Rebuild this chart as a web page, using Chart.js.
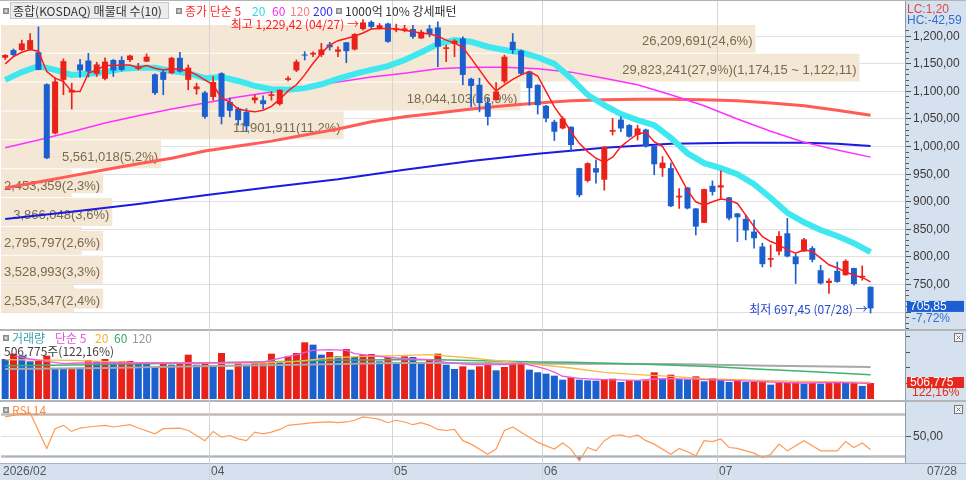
<!DOCTYPE html>
<html>
<head>
<meta charset="utf-8">
<script src="https://cdn.jsdelivr.net/npm/chart.js@4.4.1/dist/chart.umd.min.js"></script>
<style>
html, body { margin: 0; padding: 0; background: #fff; }
#wrap { position: relative; width: 966px; height: 480px; overflow: hidden; background: #fff; }
#axisCol { position: absolute; left: 905px; top: 0; width: 61px; height: 480px; background: #d6e1ef; border-left: 1px solid #8f9aa8; box-sizing: border-box; }
#xStrip { position: absolute; left: 0; top: 463px; width: 966px; height: 17px; background: #d6e1ef; border-top: 1px solid #a9b3c0; box-sizing: border-box; }
.sep { position: absolute; left: 0; width: 966px; height: 2px; background: #b4b4b4; }
canvas { position: absolute; left: 0; }
</style>
</head>
<body>
<div id="wrap">
  <div id="axisCol"></div>
  <div id="xStrip"></div>
  <div class="sep" style="top:0;height:1px"></div>
  <div class="sep" style="top:329px"></div>
  <div class="sep" style="top:400px"></div>
  <canvas id="profileChart" width="966" height="331" style="top:0"></canvas>
  <canvas id="priceChart" width="966" height="331" style="top:0"></canvas>
  <canvas id="volChart" width="966" height="70" style="top:331px"></canvas>
  <canvas id="rsiChart" width="966" height="79" style="top:401px"></canvas>
</div>
<script>
// trading sessions shown (month -> days)
const tradingDays = {
  '02': [25, 26, 27],
  '03': [2, 3, 4, 5, 6, 9, 10, 11, 12, 13, 16, 17, 18, 19, 20, 23, 24, 25, 26, 27, 30, 31],
  '04': [1, 2, 3, 6, 7, 8, 9, 10, 13, 14, 15, 16, 17, 20, 21, 22, 23, 24, 27, 28, 29, 30],
  '05': [4, 6, 7, 8, 11, 12, 13, 14, 15, 18, 19, 20, 21, 22, 26, 27, 28, 29],
  '06': [1, 2, 4, 5, 8, 9, 10, 11, 12, 15, 16, 17, 18, 19, 22, 23, 24, 25, 26, 29, 30],
  '07': [1, 2, 3, 6, 7, 8, 9, 10, 13, 14, 15, 16, 20, 21, 22, 23, 24, 27, 28]
};
const yearLabel = '2026';
const emptySlots = 4; // blank space right of the last candle

const opens = [1160,1174,1174,1175,1170,1112,1023,1120,1097,1148, 1155,1131,1122,1156,1156,1156,1140,1153,1130,1134,
  1132,1160,1120,1103,1097,1089,1132,1080,1068,1062, 1083,1083,1091,1076,1120,1137,1166,1166,1165,1184,
  1171,1188,1175,1212,1225,1213,1222,1210,1209,1212, 1195,1213,1215,1176,1185,1195,1122,1111,1078,1083,
  1117,1189,1173,1135,1111,1073,1044,1032,1035,960, 937,960,939,1026,1048,1038,1020,1030,1000,960,
  960,907,925,887,861,928,925,907,878,868, 845,818,794,809,842,800,809,815,775,752, 774,766,779,762,745];
const highs = [1166,1176,1192,1204,1216,1113,1123,1158,1114,1157, 1168,1152,1160,1157,1162,1165,1150,1167,1131,1138,
  1161,1170,1147,1114,1099,1126,1133,1087,1070,1068, 1093,1091,1099,1102,1126,1156,1171,1171,1186,1188,
  1180,1188,1204,1229.42,1227,1222,1223,1221,1219,1219, 1210,1219,1225,1183,1193,1198,1123,1123,1087,1115,
  1165,1204,1174,1135,1111,1074,1047,1053,1035,960, 970,975,999,1050,1053,1039,1038,1031,1000,981,
  969,923,925,887,922,937,955,907,878,875, 866,824,821,845,869,804,833,818,784,760, 790,794,779,783,745];
const lows = [1157,1162,1173,1174,1138,977,1022,1093,1067,1125, 1125,1126,1120,1126,1136,1153,1138,1153,1093,1093,
  1131,1134,1102,1094,1050,1083,1040,1053,1038,1026, 1078,1068,1083,1074,1118,1135,1156,1162,1162,1174,
  1162,1151,1174,1210,1213,1212,1188,1207,1207,1195, 1195,1198,1144,1153,1162,1111,1071,1062,1038,1083,
  1114,1168,1129,1074,1058,1044,1010,1031,990,908, 935,933,920,1020,1026,1016,1011,998,948,945,
  890,887,886,839,861,911,905,866,827,830, 815,781,781,803,799,751,809,790,750,733, 753,766,748,757,697.45];
const closes = [1165,1165,1186,1192,1138,978,1117,1154,1102,1137, 1135,1148,1153,1137,1138,1164,1144,1162,1096,1120,
  1160,1135,1142,1108,1053,1116,1053,1064,1047,1036, 1088,1076,1094,1102,1123,1153,1164,1169,1175,1179,
  1175,1172,1203,1224,1216,1219,1189,1213,1213,1198, 1207,1203,1180,1179,1191,1129,1109,1078,1053,1099,
  1162,1174,1131,1105,1074,1050,1026,1050,1002,911, 969,952,999,1029,1032,1017,1032,999,967,970,
  891,910,887,854,922,917,929,869,871,847, 833,786,797,837,800,786,831,794,751,756, 754,792,750,764.9,705.85];

// moving averages of the close ([session, value])
const ma5 = [1149,1162,1170,1175,1172,1135,1123,1117,1099,1099, 1132,1138,1146,1146,1147,1147,1142,1146,1141,1138,
  1140,1139,1136,1129,1120,1111,1087,1080,1067,1064, 1062,1065,1072,1085,1100,1111,1129,1150,1168,1183,
  1191,1195,1199,1205,1212,1213,1213,1212,1210,1207, 1205,1203,1199,1192,1187,1179,1159,1138,1117,1100,
  1111,1121,1129,1135,1127,1099,1071,1050,1026,1005, 990,978,971,980,999,1011,1022,1025,1008,999,
  975,948,920,899,893,899,904,902,896,875, 854,836,827,821,812,806,812,809,797,785, 779,772,766,762,754];
const ma20 = [[0,1120],[2,1134],[4,1145],[6,1138],[8,1129],[10,1131],[12,1134],[14,1140],[16,1142],[18,1142],
  [20,1136],[22,1132],[24,1123],[26,1125],[28,1118],[30,1109],[32,1103],[34,1102],[36,1105],[38,1112],
  [40,1122],[42,1131],[44,1138],[46,1145],[48,1156],[50,1170],[52,1185],[54,1192],[56,1189],[58,1180],
  [60,1174],[62,1170],[64,1161],[66,1149],[68,1123],[70,1093],[72,1074],[74,1058],[76,1047],[78,1038],
  [80,1015],[82,987],[84,969],[86,960],[88,949],[90,931],[92,906],[94,879],[96,862],[98,848],
  [100,837],[102,824],[104,808]];
const ma60 = [[0,997],[4,1011],[8,1026],[12,1042],[16,1055],[20,1067],[24,1078],[28,1089],[32,1098],[36,1107],
  [40,1116],[44,1125],[48,1132],[52,1140],[56,1143],[60,1143],[64,1140],[68,1134],[72,1123],[76,1111],
  [80,1093],[84,1073],[88,1049],[92,1027],[96,1007],[100,993],[104,980]];
const ma120 = [[0,924],[4,935],[8,946],[12,957],[16,968],[20,978],[24,991],[28,1000],[32,1009],[36,1020],
  [40,1031],[44,1044],[48,1053],[52,1060],[56,1067],[60,1073],[64,1078],[68,1082],[72,1084],[76,1085],
  [80,1085],[84,1084],[88,1082],[92,1078],[96,1073],[100,1065],[104,1056]];
const ma200 = [[0,868],[8,881],[16,895],[24,911],[32,926],[40,940],[48,957],[56,973],[64,986],[72,997],
  [80,1004],[88,1006],[96,1006],[100,1004],[104,1000]];

// volume profile (매물대), bottom band first
const profileFloor = [697.5, 749.8, 802.1, 854.4, 906.7, 959.0, 1011.3, 1063.6, 1115.9, 1168.2];
const profileHeight = 52.3;
const profileVol = [2535347, 3528993, 2795797, 3866048, 2453359, 5561018, 11901911, 18044103, 29823241, 26209691];
const profileRangeText = '(1,174,15 ~ 1,122,11)';

const volumes = [1267000,1436000,1373000,1193000,1214000,1373000,961000,955000,971000,950000,
  1225000,1193000,1267000,1161000,1193000,1204000,1161000,1151000,1014000,1161000,
  1087000,1109000,1404000,1087000,1161000,1014000,1457000,929000,1161000,1087000,
  1140000,1151000,1436000,1193000,1351000,1457000,1795000,1721000,1404000,1489000,
  1351000,1584000,1330000,1404000,1425000,1193000,1330000,1140000,1351000,1330000,
  1161000,1246000,1436000,1087000,950000,1035000,929000,1035000,1161000,908000,
  1014000,1119000,1140000,929000,845000,802000,739000,612000,686000,612000,
  591000,581000,633000,644000,538000,591000,581000,591000,845000,644000,
  771000,633000,623000,718000,560000,665000,612000,538000,612000,538000,
  560000,581000,454000,507000,517000,538000,486000,507000,486000,507000,
  517000,507000,528000,414849,506775];
const volMa5 = [[1,1373000],[3,1267000],[5,1193000],[7,1119000],[9,1140000],[15,1140000],[23,1140000],[31,1172000],
  [35,1404000],[37,1541000],[39,1563000],[41,1541000],[42,1436000],[43,1404000],[45,1351000],[47,1299000],
  [49,1267000],[51,1246000],[53,1161000],[56,1087000],[60,1087000],[62,1140000],[64,1014000],[65,950000],
  [66,850000],[67,720000],[69,650000],[72,612000],[76,591000],[78,633000],[80,644000],[84,612000],
  [88,581000],[92,538000],[96,507000],[100,528000],[104,486000]];
const volMa20 = [[0,1246000],[8,1225000],[15,1161000],[23,1140000],[31,1140000],[35,1193000],[39,1299000],
  [43,1351000],[47,1373000],[51,1404000],[56,1299000],[60,1193000],[64,1087000],[68,982000],[72,845000],
  [76,771000],[80,718000],[84,644000],[88,612000],[92,581000],[96,560000],[100,538000],[104,528000]];
const volMa60 = [[0,1056000],[8,1077000],[15,1109000],[23,1140000],[31,1172000],[39,1225000],[47,1246000],
  [52,1246000],[60,1193000],[64,1172000],[68,1161000],[76,1109000],[84,1035000],[92,929000],[96,876000],[104,771000]];
const volMa120 = [[0,950000],[12,982000],[23,1035000],[35,1087000],[47,1140000],[52,1140000],[68,1119000],
  [80,1109000],[92,1056000],[104,1014000]];

const rsi14 = [[0,67.7],[2,70.8],[3,71.5],[5,37.7],[6,56.5],[7,59.7],[8,53.9],[9,57.1],[10,58.1],[12,59.7],
  [13,58.1],[15,60.3],[16,57.1],[18,51.6],[19,56.5],[21,57.1],[22,54.8],[23,50],[24,45.1],[25,53.9],
  [26,48.4],[27,50],[28,46.8],[29,45.1],[30,53.2],[31,51.6],[32,53.2],[33,55.8],[34,59.7],[36,61.3],
  [37,62.2],[39,62.9],[40,62.2],[41,62.9],[42,64.5],[43,67.7],[44,66.7],[45,65.4],[46,62.2],[47,64.5],
  [48,62.9],[49,60.3],[50,62.2],[51,59.7],[52,55.8],[53,54.8],[54,55.8],[55,45.1],[56,41.8],[58,32.2],
  [59,37.1],[60,54.8],[61,58.1],[62,53.2],[63,48.4],[64,43.5],[66,37.1],[67,42.9],[68,37.1],[69,25.8],
  [70,38.6],[71,35.4],[72,45.1],[73,50],[74,50.6],[75,48.4],[76,50.6],[77,45.1],[78,41.8],[80,32.2],
  [81,37.7],[82,34.5],[83,30.6],[84,45.1],[85,44.2],[86,46.8],[87,38.6],[88,37.7],[89,35.4],[90,33.2],
  [91,28.9],[92,32.2],[93,41.8],[94,35.4],[96,45.1],[97,40.3],[98,35.4],[100,35.4],[101,44.2],[102,38.6],
  [103,42.9],[104,36.5]];
const rsiLevels = [70, 30];

// axis ranges
const PRICE_MIN = 668.55, PRICE_MAX = 1230.27;
const PROFILE_MAX = 31507000;
const VOL_MAX = 2090000;
const RSI_MIN = 22.9, RSI_MAX = 81.9;

const RED = '#e8221a', BLUE = '#1c5fcf';
const GRID = '#e0e0e0', GRID_V = '#d4d4d4';
const KR = '"Noto Sans CJK KR", sans-serif';
const NUM = '"Liberation Sans", sans-serif';
const COL_X = 905;
const PAD = {left: 1, right: 58};

// categories
const dates = [];
Object.entries(tradingDays).forEach(([m, days]) => days.forEach(d => dates.push(m + '/' + String(d).padStart(2, '0'))));
const labels = dates.concat(Array(emptySlots).fill(''));
// month boundaries (the first partial month keeps only its year label)
const monthStarts = [0];
dates.forEach((d, k) => { if (k > 5 && d.slice(0, 2) !== dates[k - 1].slice(0, 2)) monthStarts.push(k); });

const pts = pairs => pairs.map(([k, v]) => ({x: labels[k], y: v}));

function krNum(v, dec) {
  const s = Math.abs(v).toFixed(dec).split('.');
  const int = s[0].replace(/\B(?=(\d{3})+(?!\d))/g, ',');
  return (v < 0 ? '-' : '') + (dec ? int + ',' + s[1] : int);
}

function text(ctx, s, x, y, color, font, align) {
  ctx.font = font;
  ctx.fillStyle = color;
  ctx.textAlign = align || 'left';
  ctx.textBaseline = 'middle';
  ctx.fillText(s, x, y);
}

function icon(ctx, x, y) {
  ctx.fillStyle = '#8a8a8a';
  ctx.fillRect(x, y - 3, 6, 6);
  ctx.fillStyle = '#d8d8d8';
  ctx.fillRect(x + 1.5, y - 1.5, 3, 3);
}

function closeBox(ctx, y) {
  ctx.fillStyle = '#f4f4f4';
  ctx.fillRect(954, y, 9, 9);
  ctx.strokeStyle = '#777';
  ctx.lineWidth = 1;
  ctx.strokeRect(954.5, y + 0.5, 8, 8);
  ctx.beginPath();
  ctx.moveTo(956.5, y + 2.5); ctx.lineTo(960.5, y + 6.5);
  ctx.moveTo(960.5, y + 2.5); ctx.lineTo(956.5, y + 6.5);
  ctx.stroke();
}

function monthLines(chart, y0, y1) {
  const xs = chart.scales.x, ctx = chart.ctx;
  const slot = (xs.right - xs.left) / labels.length;
  ctx.save();
  ctx.strokeStyle = GRID_V;
  ctx.lineWidth = 1;
  monthStarts.forEach(k => {
    if (k === 0) return;
    const px = Math.round(xs.getPixelForValue(k) - slot / 2) + 0.5;
    ctx.beginPath(); ctx.moveTo(px, y0); ctx.lineTo(px, y1); ctx.stroke();
  });
  ctx.restore();
}

const candleColors = closes.map((c, k) => c >= opens[k] ? RED : BLUE);
const volColors = volumes.map((v, k) => k > 0 && v >= volumes[k - 1] ? RED : BLUE);

const commonOpts = {
  responsive: false,
  animation: false,
  events: [],
  plugins: {legend: {display: false}, tooltip: {enabled: false}}
};

// ---------- volume profile (under the price panel) ----------
const profileDeco = {
  id: 'profileDeco',
  beforeDatasetsDraw(chart) {
    const {ctx, chartArea: a, scales: {y}} = chart;
    ctx.save();
    ctx.strokeStyle = GRID;
    ctx.lineWidth = 1;
    for (let v = 700; v <= 1200; v += 50) {
      const py = Math.round(y.getPixelForValue(v)) + 0.5;
      ctx.beginPath(); ctx.moveTo(a.left, py); ctx.lineTo(COL_X, py); ctx.stroke();
    }
    ctx.restore();
  },
  afterDatasetsDraw(chart) {
    const ctx = chart.ctx;
    const meta = chart.getDatasetMeta(0);
    const total = profileVol.reduce((s, v) => s + v, 0);
    const maxVol = Math.max(...profileVol);
    const font = '13px "Liberation Sans", sans-serif';
    ctx.save();
    meta.data.forEach((el, k) => {
      let s = krNum(profileVol[k], 0) + '(' + krNum(profileVol[k] / total * 100, 1) + '%)';
      if (profileVol[k] === maxVol) s += profileRangeText;
      ctx.font = font;
      const w = ctx.measureText(s).width;
      const barW = el.x - el.base;
      let tx;
      if (w + 6 < barW) {
        tx = el.x - 3 - w;
      } else {
        tx = el.base + 3;
        ctx.fillStyle = '#f4e7d5';
        ctx.fillRect(el.base, el.y - 10, w + 6, 20);
      }
      text(ctx, s, tx, el.y + 3, '#7a6a4c', font);
    });
    ctx.restore();
  }
};

new Chart(document.getElementById('profileChart'), {
  type: 'bar',
  data: {
    datasets: [{
      label: '매물대',
      data: profileFloor.map((f, k) => ({y: f + profileHeight / 2, x: profileVol[k]})),
      backgroundColor: '#f4e7d5', barPercentage: 0.965, categoryPercentage: 1
    }]
  },
  options: Object.assign({}, commonOpts, {
    indexAxis: 'y',
    layout: {padding: {left: PAD.left, right: PAD.right, top: 19, bottom: 2}},
    scales: {
      x: {type: 'linear', min: 0, max: PROFILE_MAX, display: false, offset: false},
      y: {type: 'linear', min: PRICE_MIN, max: PRICE_MAX, display: false, offset: false, ticks: {stepSize: 1000}}
    }
  }),
  plugins: [profileDeco]
});

// ---------- price panel ----------
const priceDeco = {
  id: 'priceDeco',
  beforeDatasetsDraw(chart) { monthLines(chart, 1, chart.height); },
  afterDraw(chart) {
    const {ctx, scales: {x, y}} = chart;
    ctx.save();
    // top legend
    ctx.fillStyle = '#fff';
    ctx.fillRect(0, 1, COL_X, 18);
    monthLines(chart, 1, 19);
    icon(ctx, 3, 11);
    ctx.fillStyle = '#ececec';
    ctx.fillRect(10, 2, 159, 17);
    ctx.strokeStyle = '#c6c6c6';
    ctx.lineWidth = 1;
    ctx.strokeRect(10.5, 2.5, 158, 16);
    text(ctx, '종합(KOSDAQ) 매물대 수(10)', 13, 11, '#333', '12px ' + KR);
    icon(ctx, 176, 11);
    text(ctx, '종가 단순 5', 185, 11, '#ff2a2a', '12px ' + KR);
    text(ctx, '20', 252, 11, '#2fd8e0', '12px ' + KR);
    text(ctx, '60', 272, 11, '#f030f0', '12px ' + KR);
    text(ctx, '120', 290, 11, '#ff7a7a', '12px ' + KR);
    text(ctx, '200', 313, 11, '#3030e8', '12px ' + KR);
    icon(ctx, 336, 11);
    text(ctx, '1000억 10% 강세패턴', 345, 11, '#333', '12px ' + KR);

    // high / low markers
    const hi = highs.indexOf(Math.max(...highs));
    const lo = lows.indexOf(Math.min(...lows));
    const hx = x.getPixelForValue(hi), hy = y.getPixelForValue(highs[hi]);
    text(ctx, '최고 ' + krNum(highs[hi], 2) + ' (' + dates[hi] + ') →', hx - 4, hy + 4.5, '#ff2020', '12px ' + KR, 'right');
    const lx = x.getPixelForValue(lo), ly = y.getPixelForValue(lows[lo]);
    text(ctx, '최저 ' + krNum(lows[lo], 2) + ' (' + dates[lo] + ') →', lx - 3, ly - 4, '#2548d0', '12px ' + KR, 'right');

    // right price axis
    text(ctx, 'LC:1,20', 907, 10, '#e04848', '12px ' + NUM);
    text(ctx, 'HC:-42,59', 907, 21, '#2f6fd0', '12px ' + NUM);
    const last = closes.length - 1;
    const cp = y.getPixelForValue(closes[last]);
    ctx.strokeStyle = '#555';
    ctx.lineWidth = 1;
    for (let v = Math.ceil(PRICE_MIN / 10) * 10; v <= PRICE_MAX; v += 10) {
      const py = Math.round(y.getPixelForValue(v)) + 0.5;
      if (py < 26) continue;
      const major = v % 50 === 0;
      ctx.beginPath(); ctx.moveTo(906, py); ctx.lineTo(major ? 911 : 909, py); ctx.stroke();
      if (major && Math.abs(py - cp) > 14) text(ctx, krNum(v, 2), 913, py, '#3a3a3a', '12px ' + NUM);
    }
    ctx.fillStyle = '#1b5fd0';
    ctx.fillRect(907, cp - 7.5, 57, 11);
    text(ctx, krNum(closes[last], 2), 910, cp - 2, '#fff', '12px ' + NUM);
    const chg = (closes[last] / closes[last - 1] - 1) * 100;
    text(ctx, krNum(chg, 2) + '%', 912, cp + 10, '#2f6fd0', '12px ' + NUM);
    ctx.restore();
  }
};

new Chart(document.getElementById('priceChart'), {
  type: 'bar',
  data: {
    labels: labels,
    datasets: [
      {type: 'line', label: 'MA5', data: ma5, borderColor: '#ff1a1a', borderWidth: 1.5, pointRadius: 0, order: 1},
      {label: 'wick', data: lows.map((l, k) => [l, highs[k]]), backgroundColor: candleColors, barThickness: 1, grouped: false, order: 3},
      {label: 'body', data: opens.map((o, k) => [o, closes[k]]), backgroundColor: candleColors, barPercentage: 0.72, categoryPercentage: 1, minBarLength: 1, grouped: false, order: 3},
      {type: 'line', label: 'MA20', data: pts(ma20), borderColor: '#3fe8ef', borderWidth: 6, pointRadius: 0, order: 5},
      {type: 'line', label: 'MA60', data: pts(ma60), borderColor: '#ff30ff', borderWidth: 1.5, pointRadius: 0, order: 6},
      {type: 'line', label: 'MA120', data: pts(ma120), borderColor: '#ff5c55', borderWidth: 3, pointRadius: 0, order: 7},
      {type: 'line', label: 'MA200', data: pts(ma200), borderColor: '#1a1ae0', borderWidth: 2, pointRadius: 0, order: 8}
    ]
  },
  options: Object.assign({}, commonOpts, {
    layout: {padding: {left: PAD.left, right: PAD.right, top: 19, bottom: 2}},
    scales: {
      x: {type: 'category', offset: true, display: false},
      y: {type: 'linear', min: PRICE_MIN, max: PRICE_MAX, display: false}
    }
  }),
  plugins: [priceDeco]
});

// ---------- volume panel ----------
const volDeco = {
  id: 'volDeco',
  beforeDatasetsDraw(chart) { monthLines(chart, 0, chart.height); },
  afterDraw(chart) {
    const {ctx, scales: {y}} = chart;
    ctx.save();
    icon(ctx, 3, 7);
    text(ctx, '거래량', 12, 7, '#3aa6ae', '12px ' + KR);
    text(ctx, '단순 5', 55, 7, '#e455dc', '12px ' + KR);
    text(ctx, '20', 95, 7, '#f2b233', '12px ' + KR);
    text(ctx, '60', 114, 7, '#2fae5c', '12px ' + KR);
    text(ctx, '120', 132, 7, '#999', '12px ' + KR);
    const last = volumes.length - 1;
    const pct = volumes[last] / volumes[last - 1] * 100;
    text(ctx, krNum(volumes[last], 0) + '주(' + krNum(pct, 2) + '%)', 4, 20, '#444', '12px ' + KR);
    // right column
    closeBox(ctx, 2);
    ctx.strokeStyle = '#555';
    ctx.lineWidth = 1;
    for (let v = 500000; v <= VOL_MAX; v += 500000) {
      const py = Math.round(y.getPixelForValue(v)) + 0.5;
      ctx.beginPath(); ctx.moveTo(906, py); ctx.lineTo(910, py); ctx.stroke();
    }
    const py = y.getPixelForValue(volumes[last]);
    ctx.fillStyle = '#e8281c';
    ctx.fillRect(907, py - 6, 57, 11);
    text(ctx, krNum(volumes[last], 0), 910, py - 0.5, '#fff', '12px ' + NUM);
    text(ctx, krNum(pct, 2) + '%', 912, py + 10, '#e8281c', '12px ' + NUM);
    ctx.restore();
  }
};

new Chart(document.getElementById('volChart'), {
  type: 'bar',
  data: {
    labels: labels,
    datasets: [
      {type: 'line', data: pts(volMa5), borderColor: '#ee5ae0', borderWidth: 1.3, pointRadius: 0, order: 1},
      {type: 'line', data: pts(volMa20), borderColor: '#f5bb45', borderWidth: 1.3, pointRadius: 0, order: 2},
      {type: 'line', data: pts(volMa60), borderColor: '#3cb46a', borderWidth: 1.5, pointRadius: 0, order: 3},
      {type: 'line', data: pts(volMa120), borderColor: '#a8a8a8', borderWidth: 2, pointRadius: 0, order: 4},
      {data: volumes, backgroundColor: volColors, barPercentage: 0.84, categoryPercentage: 1, order: 5}
    ]
  },
  options: Object.assign({}, commonOpts, {
    layout: {padding: {left: PAD.left, right: PAD.right, top: 2, bottom: 2}},
    scales: {
      x: {type: 'category', offset: true, display: false},
      y: {type: 'linear', min: 0, max: VOL_MAX, display: false}
    }
  }),
  plugins: [volDeco]
});

// ---------- RSI panel + date axis ----------
const rsiDeco = {
  id: 'rsiDeco',
  beforeDatasetsDraw(chart) {
    const {ctx, chartArea: a, scales: {y}} = chart;
    ctx.save();
    ctx.strokeStyle = GRID;
    ctx.lineWidth = 1;
    const p50 = Math.round(y.getPixelForValue(50)) + 0.5;
    ctx.beginPath(); ctx.moveTo(a.left, p50); ctx.lineTo(COL_X, p50); ctx.stroke();
    ctx.strokeStyle = '#bdbdbd';
    ctx.lineWidth = 2.5;
    rsiLevels.forEach(v => {
      const py = y.getPixelForValue(v);
      ctx.beginPath(); ctx.moveTo(a.left, py); ctx.lineTo(COL_X, py); ctx.stroke();
    });
    ctx.restore();
    monthLines(chart, 0, chart.height);
  },
  afterDraw(chart) {
    const {ctx, scales: {x, y}} = chart;
    ctx.save();
    icon(ctx, 3, 9);
    text(ctx, 'RSI 14', 12, 9, '#ff8a3c', '12px ' + KR);
    closeBox(ctx, 4);
    const p50 = Math.round(y.getPixelForValue(50)) + 0.5;
    ctx.strokeStyle = '#555';
    ctx.lineWidth = 1;
    ctx.beginPath(); ctx.moveTo(906, p50); ctx.lineTo(911, p50); ctx.stroke();
    text(ctx, krNum(50, 2), 913, p50, '#3a3a3a', '12px ' + NUM);
    // date axis
    const slot = (x.right - x.left) / labels.length;
    monthStarts.forEach(k => {
      const s = k === 0 ? yearLabel + '/' + dates[k].slice(0, 2) : dates[k].slice(0, 2);
      const px = k === 0 ? 3 : Math.round(x.getPixelForValue(k) - slot / 2) + 2;
      text(ctx, s, px, 71, '#555', '12px ' + NUM);
    });
    text(ctx, dates[dates.length - 1], 927, 71, '#555', '12px ' + NUM);
    ctx.restore();
  }
};

new Chart(document.getElementById('rsiChart'), {
  type: 'line',
  data: {
    labels: labels,
    datasets: [
      {data: pts(rsi14), borderColor: '#ff9a55', borderWidth: 1.2, pointRadius: 0,
        fill: {target: {value: rsiLevels[1]}, above: 'rgba(0,0,0,0)', below: '#5b9be0'}},
      {data: pts(rsi14), borderColor: 'rgba(0,0,0,0)', borderWidth: 0, pointRadius: 0,
        fill: {target: {value: rsiLevels[0]}, above: '#ffa060', below: 'rgba(0,0,0,0)'}}
    ]
  },
  options: Object.assign({}, commonOpts, {
    layout: {padding: {left: PAD.left, right: PAD.right, top: 1, bottom: 16}},
    scales: {
      x: {type: 'category', offset: true, display: false},
      y: {type: 'linear', min: RSI_MIN, max: RSI_MAX, display: false}
    }
  }),
  plugins: [rsiDeco]
});
</script>
</body>
</html>
